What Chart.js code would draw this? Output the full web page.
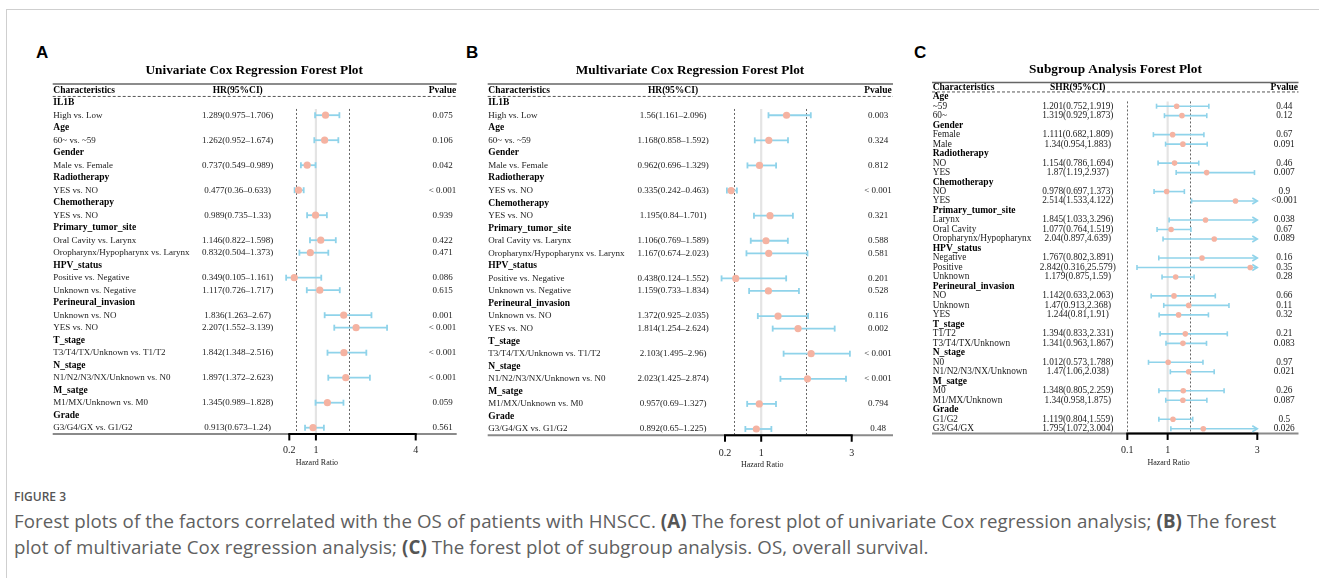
<!DOCTYPE html>
<html><head><meta charset="utf-8">
<script src="https://cdn.jsdelivr.net/npm/chart.js@4.4.0/dist/chart.umd.min.js"></script>
<style>
html,body{margin:0;padding:0;background:#fff;width:1319px;height:578px;overflow:hidden;position:relative;}
#frame{position:absolute;left:6px;top:9px;width:1320px;height:580px;border-left:1px solid #cfcfcf;border-top:1px solid #cfcfcf;}
.pl{position:absolute;font:bold 17px "Liberation Sans",Arial,sans-serif;line-height:17px;color:#000;}
canvas{position:absolute;}
#fig{position:absolute;left:14px;top:489px;font:600 12px "Open Sans",sans-serif;line-height:16px;color:#555;}
#cap{position:absolute;left:14px;top:508px;font:18.7px "Open Sans",sans-serif;letter-spacing:0.1px;color:#606060;line-height:26px;white-space:nowrap;}
#cap b{color:#555;}
</style></head>
<body>
<div id="frame"></div>
<div class="pl" style="left:36px;top:44px">A</div>
<div class="pl" style="left:466px;top:44px">B</div>
<div class="pl" style="left:914px;top:44px">C</div>
<canvas id="cA" width="450" height="450" style="left:20px;top:30px"></canvas>
<canvas id="cB" width="430" height="450" style="left:470px;top:30px"></canvas>
<canvas id="cC" width="414" height="450" style="left:905px;top:30px"></canvas>
<div id="fig">FIGURE 3</div>
<div id="cap">Forest plots of the factors correlated with the OS of patients with HNSCC. <b>(A)</b> The forest plot of univariate Cox regression analysis; <b>(B)</b> The forest<br>plot of multivariate Cox regression analysis; <b>(C)</b> The forest plot of subgroup analysis. OS, overall survival.</div>
<script>
// ---------- Panel A: univariate ----------
const A_labels = ['IL1B','High vs. Low','Age','60~ vs. ~59','Gender','Male vs. Female','Radiotherapy','YES vs. NO','Chemotherapy','YES vs. NO','Primary_tumor_site','Oral Cavity vs. Larynx','Oropharynx/Hypopharynx vs. Larynx','HPV_status','Positive vs. Negative','Unknown vs. Negative','Perineural_invasion','Unknown vs. NO','YES vs. NO','T_stage','T3/T4/TX/Unknown vs. T1/T2','N_stage','N1/N2/N3/NX/Unknown vs. N0','M_satge','M1/MX/Unknown vs. M0','Grade','G3/G4/GX vs. G1/G2'];
const A_hr = [null,1.289,null,1.262,null,0.737,null,0.477,null,0.989,null,1.146,0.832,null,0.349,1.117,null,1.836,2.207,null,1.842,null,1.897,null,1.345,null,0.913];
const A_lo = [null,0.975,null,0.952,null,0.549,null,0.36,null,0.735,null,0.822,0.504,null,0.105,0.726,null,1.263,1.552,null,1.348,null,1.372,null,0.989,null,0.673];
const A_hi = [null,1.706,null,1.674,null,0.989,null,0.633,null,1.33,null,1.598,1.373,null,1.161,1.717,null,2.67,3.139,null,2.516,null,2.623,null,1.828,null,1.24];
const A_p  = ['','0.075','','0.106','','0.042','','< 0.001','','0.939','','0.422','0.471','','0.086','0.615','','0.001','< 0.001','','< 0.001','','< 0.001','','0.059','','0.561'];
const A_ticks = [0.2,1,4];
const A_refs = [0.4,2];

// ---------- Panel B: multivariate ----------
const B_labels = A_labels.slice();
const B_hr = [null,1.56,null,1.168,null,0.962,null,0.335,null,1.195,null,1.106,1.167,null,0.438,1.159,null,1.372,1.814,null,2.103,null,2.023,null,0.957,null,0.892];
const B_lo = [null,1.161,null,0.858,null,0.696,null,0.242,null,0.84,null,0.769,0.674,null,0.124,0.733,null,0.925,1.254,null,1.495,null,1.425,null,0.69,null,0.65];
const B_hi = [null,2.096,null,1.592,null,1.329,null,0.463,null,1.701,null,1.589,2.023,null,1.552,1.834,null,2.035,2.624,null,2.96,null,2.874,null,1.327,null,1.225];
const B_p  = ['','0.003','','0.324','','0.812','','< 0.001','','0.321','','0.588','0.581','','0.201','0.528','','0.116','0.002','','< 0.001','','< 0.001','','0.794','','0.48'];
const B_ticks = [0.2,1,3];
const B_refs = [0.4,2];

// ---------- Panel C: subgroup ----------
const C_labels = ['Age','~59','60~','Gender','Female','Male','Radiotherapy','NO','YES','Chemotherapy','NO','YES','Primary_tumor_site','Larynx','Oral Cavity','Oropharynx/Hypopharynx','HPV_status','Negative','Positive','Unknown','Perineural_invasion','NO','Unknown','YES','T_stage','T1/T2','T3/T4/TX/Unknown','N_stage','N0','N1/N2/N3/NX/Unknown','M_satge','M0','M1/MX/Unknown','Grade','G1/G2','G3/G4/GX'];
const C_hr = [null,1.201,1.319,null,1.111,1.34,null,1.154,1.87,null,0.978,2.514,null,1.845,1.077,2.04,null,1.767,2.842,1.179,null,1.142,1.47,1.244,null,1.394,1.341,null,1.012,1.47,null,1.348,1.34,null,1.119,1.795];
const C_lo = [null,0.752,0.929,null,0.682,0.954,null,0.786,1.19,null,0.697,1.533,null,1.033,0.764,0.897,null,0.802,0.316,0.875,null,0.633,0.913,0.81,null,0.833,0.963,null,0.573,1.06,null,0.805,0.958,null,0.804,1.072];
const C_hi = [null,1.919,1.873,null,1.809,1.883,null,1.694,2.937,null,1.373,4.122,null,3.296,1.519,4.639,null,3.891,25.579,1.59,null,2.063,2.368,1.91,null,2.331,1.867,null,1.788,2.038,null,2.259,1.875,null,1.559,3.004];
const C_p  = ['','0.44','0.12','','0.67','0.091','','0.46','0.007','','0.9','<0.001','','0.038','0.67','0.089','','0.16','0.35','0.28','','0.66','0.11','0.32','','0.21','0.083','','0.97','0.021','','0.26','0.087','','0.5','0.026'];
const C_ticks = [0.1,1,3];
const C_refs = [0.1,1.5];

const SERIF = '"Liberation Serif","Times New Roman",serif';

function makePanel(id, d, g) {
  const cv = document.getElementById(id);
  const cl = parseFloat(cv.style.left), ct = parseFloat(cv.style.top);
  const W = cv.width, H = cv.height;
  const N = d.labels.length;
  const slope = (g.ax1 - g.ax0) / (d.ticks[d.ticks.length-1] - d.ticks[0]);
  const px = v => g.ax0 + (v - d.ticks[0]) * slope;
  const xmin = 0, xmax = g.xmax;
  const yTop = g.y0 - 1.5 * g.pitch, yBot = g.y0 + (N - 0.5) * g.pitch;
  const pad = {left: px(xmin) - cl, right: cl + W - px(xmax), top: yTop - ct, bottom: ct + H - yBot};
  const pts = [];
  d.hr.forEach((v, i) => { if (v != null) pts.push({x: v, y: i}); });

  const drawer = {
    id: 'forest_' + id,
    beforeDatasetsDraw(chart) {
      const c = chart.ctx, xs = chart.scales.x, ys = chart.scales.y;
      const X = v => xs.getPixelForValue(v), Y = v => ys.getPixelForValue(v);
      const L = g.lineL - cl, R = g.lineR - cl;
      const fB = 'bold ' + g.fsB + 'px ' + SERIF, fR = g.fs + 'px ' + SERIF;
      c.save();
      c.fillStyle = '#000';
      c.font = 'bold ' + g.titleSize + 'px ' + SERIF;
      c.textAlign = 'center'; c.textBaseline = 'middle';
      c.fillText(g.title, g.titleX - cl, g.titleY - ct);
      c.strokeStyle = '#666'; c.lineWidth = 1.5;
      c.beginPath(); c.moveTo(L, Y(-1.5)); c.lineTo(R, Y(-1.5)); c.stroke();
      c.strokeStyle = '#555'; c.lineWidth = 1; c.setLineDash([3, 2]);
      c.beginPath(); c.moveTo(L, Y(-0.5)); c.lineTo(R, Y(-0.5)); c.stroke();
      c.setLineDash([]);
      c.font = fB;
      c.textAlign = 'left';
      c.fillText('Characteristics', g.colChar - cl, Y(-1));
      c.textAlign = 'center';
      c.fillText(g.hrHead, g.colHR - cl, Y(-1));
      c.fillText('Pvalue', g.colP - cl, Y(-1));
      for (let i = 0; i < N; i++) {
        const y = Y(i);
        if (d.hr[i] == null) {
          c.font = fB; c.fillStyle = '#000';
          c.textAlign = 'left';
          c.fillText(d.labels[i], g.colChar - cl, y);
        } else {
          c.font = fR; c.fillStyle = '#1a1a1a';
          c.textAlign = 'left';
          c.fillText(d.labels[i], g.colChar - cl, y);
          c.textAlign = 'center';
          c.fillText(d.hr[i] + '(' + d.lo[i] + g.sep + d.hi[i] + ')', g.colHR - cl, y);
          c.fillText(d.p[i], g.colP - cl, y);
        }
      }
      const vTop = Y(0.5), vBot = Y(N - 0.5);
      c.strokeStyle = '#e4e4e4'; c.lineWidth = 2.2;
      c.beginPath(); c.moveTo(X(1), vTop); c.lineTo(X(1), vBot); c.stroke();
      c.strokeStyle = '#666'; c.lineWidth = 1; c.setLineDash([2, 2]);
      d.refs.forEach(r => { c.beginPath(); c.moveTo(Math.round(X(r)) + 0.5, vTop); c.lineTo(Math.round(X(r)) + 0.5, vBot); c.stroke(); });
      c.setLineDash([]);
      c.strokeStyle = '#8a8a8a'; c.lineWidth = 2;
      c.beginPath(); c.moveTo(L, vBot); c.lineTo(R, vBot); c.stroke();
      const t0 = d.ticks[0], t1 = d.ticks[d.ticks.length - 1];
      c.strokeStyle = '#000'; c.lineWidth = 2;
      c.beginPath(); c.moveTo(X(t0) - 1, vBot); c.lineTo(X(t1) + 1, vBot); c.stroke();
      d.ticks.forEach(t => { c.beginPath(); c.moveTo(X(t), vBot); c.lineTo(X(t), vBot + 6.5); c.stroke(); });
      c.fillStyle = '#222';
      c.font = g.tickSize + 'px ' + SERIF; c.textAlign = 'center';
      d.ticks.forEach(t => c.fillText(String(t), X(t), g.tickY - ct));
      c.font = g.hzSize + 'px ' + SERIF;
      c.fillText('Hazard Ratio', X(1) + 1, g.hzY - ct);
      c.strokeStyle = '#8fd3ea'; c.fillStyle = '#8fd3ea'; c.lineWidth = g.ciW;
      for (let i = 0; i < N; i++) {
        if (d.hr[i] == null) continue;
        const y = Y(i);
        const clipped = g.clipHi != null && d.hi[i] > g.clipHi;
        const xl = X(d.lo[i]), xr = X(clipped ? g.clipHi : d.hi[i]);
        c.beginPath(); c.moveTo(xl, y); c.lineTo(xr, y); c.stroke();
        c.beginPath(); c.moveTo(xl, y - g.cap); c.lineTo(xl, y + g.cap); c.stroke();
        if (clipped) {
          c.beginPath(); c.moveTo(xr - 5, y - 3); c.lineTo(xr, y); c.lineTo(xr - 5, y + 3); c.stroke();
        } else {
          c.beginPath(); c.moveTo(xr, y - g.cap); c.lineTo(xr, y + g.cap); c.stroke();
        }
      }
      c.restore();
    }
  };

  return new Chart(cv, {
    type: 'scatter',
    data: { datasets: [{ data: pts, pointRadius: g.r, pointHoverRadius: g.r, backgroundColor: '#f5b3a2', borderWidth: 0, clip: false }] },
    options: {
      responsive: false, animation: false, devicePixelRatio: 1, events: [],
      layout: { padding: pad },
      plugins: { legend: { display: false }, tooltip: { enabled: false } },
      scales: {
        x: { type: 'linear', min: xmin, max: xmax, display: false },
        y: { type: 'linear', min: -1.5, max: N - 0.5, reverse: true, display: false }
      }
    },
    plugins: [drawer]
  });
}

makePanel('cA', {labels: A_labels, hr: A_hr, lo: A_lo, hi: A_hi, p: A_p, ticks: A_ticks, refs: A_refs},
  {title: 'Univariate Cox Regression Forest Plot', titleX: 254.2, titleY: 70.7, titleSize: 13.3,
   colChar: 53.3, colHR: 237.7, colP: 442.5, lineL: 52.7, lineR: 456.7, hrHead: 'HR(95%CI)', sep: '–',
   ax0: 289.3, ax1: 415.7, xmax: 4.3, y0: 102.7, pitch: 12.5, fs: 9, fsB: 9.5, tickSize: 10, tickY: 450.7, hzSize: 8, hzY: 463.3,
   r: 3.6, cap: 3, ciW: 1.8, clipHi: null});
makePanel('cB', {labels: B_labels, hr: B_hr, lo: B_lo, hi: B_hi, p: B_p, ticks: B_ticks, refs: B_refs},
  {title: 'Multivariate Cox Regression Forest Plot', titleX: 690, titleY: 70.7, titleSize: 13.3,
   colChar: 488.3, colHR: 673, colP: 878, lineL: 487.7, lineR: 893, hrHead: 'HR(95%CI)', sep: '–',
   ax0: 725, ax1: 851.7, xmax: 3.3, y0: 102.7, pitch: 12.55, fs: 9, fsB: 9.5, tickSize: 10, tickY: 453.3, hzSize: 8, hzY: 465,
   r: 3.6, cap: 3, ciW: 1.8, clipHi: null});
makePanel('cC', {labels: C_labels, hr: C_hr, lo: C_lo, hi: C_hi, p: C_p, ticks: C_ticks, refs: C_refs},
  {title: 'Subgroup Analysis Forest Plot', titleX: 1115.5, titleY: 69.3, titleSize: 13.3,
   colChar: 932.7, colHR: 1077.8, colP: 1284.3, lineL: 932, lineR: 1298.5, hrHead: 'SHR(95%CI)', sep: ',',
   ax0: 1127.3, ax1: 1257.3, xmax: 3.3, y0: 96.7, pitch: 9.486, fs: 9.3, fsB: 9.5, tickSize: 10, tickY: 450.7, hzSize: 8, hzY: 463.3,
   r: 2.8, cap: 2.5, ciW: 1.6, clipHi: 3});
</script>
</body></html>
